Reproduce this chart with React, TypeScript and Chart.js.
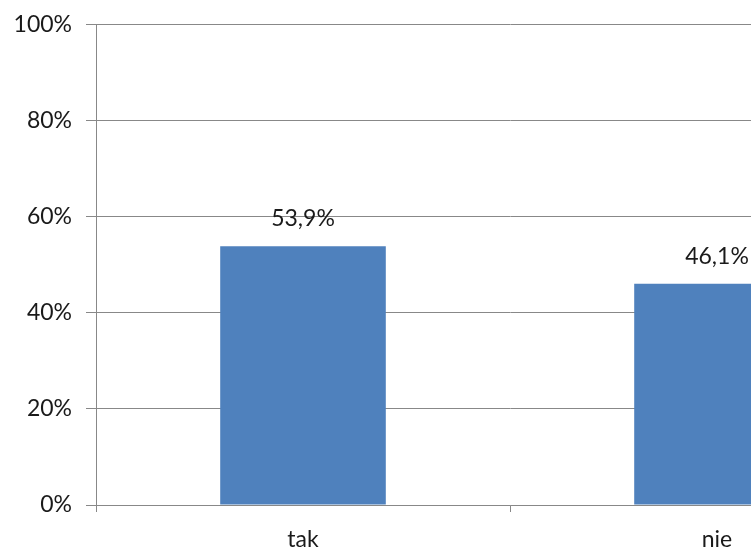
import React, { useEffect, useRef } from "react";
import { Chart, registerables } from "chart.js";

Chart.register(...registerables);

const categories = ["tak", "nie"];
const values = [53.9, 46.1];
const yTicks = [0, 20, 40, 60, 80, 100];

const FONT = "Lato, 'Liberation Sans', sans-serif";
const TEXT = "#1a1a1a";

const dataLabels = {
  id: "dataLabels",
  afterDatasetsDraw(chart: any) {
    const ctx = chart.ctx;
    const meta = chart.getDatasetMeta(0);
    ctx.save();
    ctx.font = `23px ${FONT}`;
    ctx.fillStyle = TEXT;
    ctx.textAlign = "center";
    ctx.textBaseline = "alphabetic";
    meta.data.forEach((bar: any, i: number) => {
      const txt = values[i].toFixed(1).replace(".", ",") + "%";
      ctx.fillText(txt, bar.x, bar.y - 20);
    });
    ctx.restore();
  },
};

export default function App() {
  const ref = useRef<HTMLCanvasElement>(null);
  useEffect(() => {
    if (!ref.current) return;
    const chart = new Chart(ref.current, {
      type: "bar",
      data: {
        labels: categories,
        datasets: [
          {
            data: values,
            backgroundColor: "#4F81BD",
            borderWidth: 0,
            categoryPercentage: 0.4,
            barPercentage: 1,
          },
        ],
      },
      options: {
        responsive: false,
        animation: false,
        layout: { padding: { top: 10, right: 0, bottom: 0, left: 0 } },
        plugins: { legend: { display: false }, tooltip: { enabled: false } },
        scales: {
          x: {
            grid: {
              offset: true,
              drawOnChartArea: false,
              drawTicks: true,
              tickLength: 7,
              color: "#888888",
            },
            border: { display: true, color: "#888888" },
            ticks: {
              color: TEXT,
              font: { family: FONT, size: 23 },
              padding: 14,
            },
            afterFit: (s: any) => {
              s.height = 45;
            },
          },
          y: {
            min: 0,
            max: 100,
            afterBuildTicks: (s: any) => {
              s.ticks = yTicks.map((v) => ({ value: v }));
            },
            grid: { color: "#888888", tickLength: 10 },
            border: { display: true, color: "#888888" },
            ticks: {
              color: TEXT,
              font: { family: FONT, size: 23 },
              padding: 14,
              callback: (v: any) => v + "%",
            },
            afterFit: (s: any) => {
              s.width = 96;
            },
          },
        },
      },
      plugins: [dataLabels],
    });
    return () => chart.destroy();
  }, []);
  return (
    <div
      style={{
        position: "fixed",
        left: 0,
        top: 0,
        width: 751,
        height: 550,
        overflow: "hidden",
        background: "#fff",
      }}
    >
      <canvas
        ref={ref}
        width={924}
        height={553}
        style={{ display: "block", position: "absolute", left: 0, top: -3 }}
      />
    </div>
  );
}
